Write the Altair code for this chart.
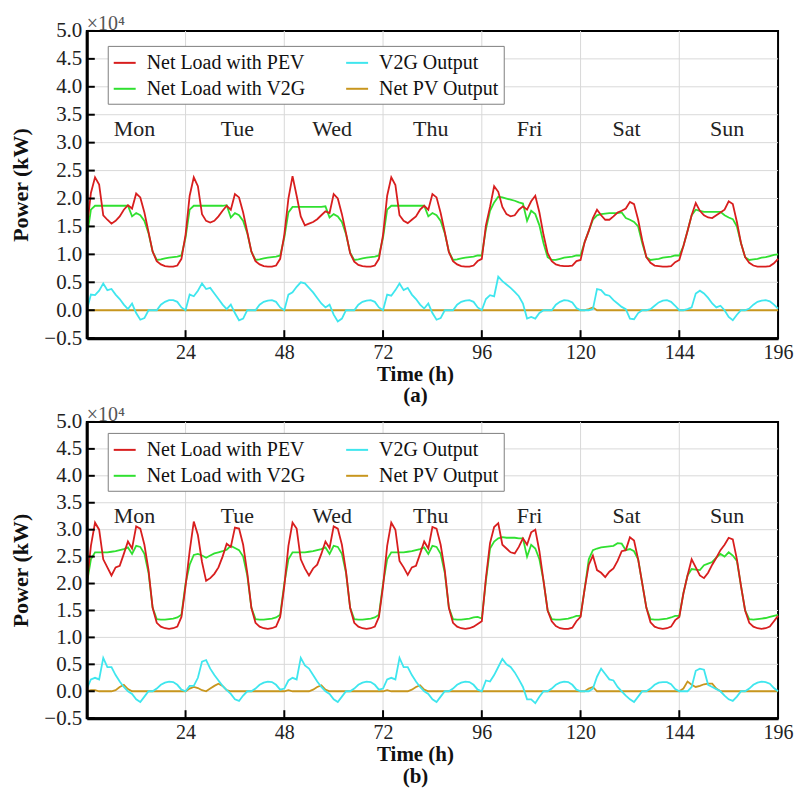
import altair as alt
import pandas as pd

# ---------------- data (values in units of 10^4 kW) ----------------
HOURS = list(range(169))
SERIES = ["Net Load with PEV", "Net Load with V2G", "V2G Output", "Net PV Output"]
COLORS = ["#d81e1e", "#30e030", "#3fe6ee", "#c8961e"]
DRAW_ORDER = ["Net PV Output", "V2G Output", "Net Load with V2G", "Net Load with PEV"]

DAY_NAMES = ["Mon", "Tue", "Wed", "Thu", "Fri", "Sat", "Sun"]
DAY_LABEL_HOURS = [11.6, 36.6, 59.6, 83.6, 107.6, 131.2, 155.6]
DAY_LABEL_LEVEL = [3.25, 3.25, 3.25, 3.25, 3.25, 3.25, 3.25]

X_TICKS = [24, 48, 72, 96, 120, 144, 168]
X_GRID = [24, 48, 72, 96, 120, 144]
Y_TICKS = [-0.5, 0.0, 0.5, 1.0, 1.5, 2.0, 2.5, 3.0, 3.5, 4.0, 4.5, 5.0]
Y_GRID = [0.0, 0.5, 1.0, 1.5, 2.0, 2.5, 3.0, 3.5, 4.0, 4.5]

# ---- panel (a) ----
A_PEV_MON = [1.45, 2.10, 2.38, 2.25, 1.70, 1.62, 1.55, 1.60, 1.68, 1.80, 1.88, 1.82, 2.09, 2.02, 1.75, 1.40, 1.05, 0.88, 0.82, 0.79, 0.78, 0.78, 0.80, 0.92]
A_PEV_TUE = [1.35, 2.05, 2.38, 2.22, 1.72, 1.60, 1.57, 1.60, 1.68, 1.78, 1.87, 1.80, 2.08, 2.02, 1.75, 1.40, 1.05, 0.88, 0.82, 0.79, 0.78, 0.78, 0.80, 0.92]
A_PEV_WED = [1.35, 2.00, 2.40, 2.05, 1.68, 1.52, 1.55, 1.58, 1.63, 1.70, 1.77, 1.74, 2.08, 2.00, 1.72, 1.38, 1.02, 0.87, 0.81, 0.79, 0.78, 0.78, 0.80, 0.92]
A_PEV_THU = [1.35, 2.05, 2.38, 2.24, 1.70, 1.60, 1.56, 1.62, 1.68, 1.80, 1.87, 1.80, 2.08, 2.02, 1.74, 1.40, 1.04, 0.88, 0.82, 0.79, 0.78, 0.78, 0.80, 0.88]
A_PEV_FRI = [0.92, 1.52, 1.85, 2.22, 2.12, 1.85, 1.72, 1.68, 1.70, 1.80, 1.86, 1.80, 1.95, 2.05, 1.75, 1.35, 1.02, 0.88, 0.82, 0.80, 0.79, 0.79, 0.80, 0.88]
A_PEV_SAT = [0.90, 1.22, 1.42, 1.65, 1.80, 1.70, 1.62, 1.62, 1.68, 1.75, 1.78, 1.82, 1.94, 1.90, 1.62, 1.25, 0.95, 0.85, 0.80, 0.79, 0.78, 0.78, 0.79, 0.86]
A_PEV_SUN = [0.90, 1.15, 1.42, 1.70, 1.92, 1.78, 1.70, 1.66, 1.65, 1.70, 1.75, 1.80, 1.95, 1.90, 1.58, 1.20, 0.95, 0.85, 0.80, 0.78, 0.78, 0.78, 0.79, 0.84]
A_PEV_END = 0.92

A_V2G_MON = [1.30, 1.80, 1.87, 1.87, 1.87, 1.87, 1.87, 1.87, 1.87, 1.87, 1.87, 1.68, 1.74, 1.70, 1.60, 1.38, 1.05, 0.90, 0.91, 0.93, 0.94, 0.95, 0.96, 0.98]
A_V2G_TUE = [1.30, 1.80, 1.87, 1.87, 1.87, 1.87, 1.87, 1.87, 1.87, 1.87, 1.88, 1.66, 1.74, 1.70, 1.60, 1.38, 1.05, 0.90, 0.91, 0.93, 0.94, 0.95, 0.96, 0.98]
A_V2G_WED = [1.30, 1.75, 1.85, 1.85, 1.85, 1.85, 1.85, 1.85, 1.85, 1.85, 1.86, 1.66, 1.72, 1.68, 1.58, 1.36, 1.03, 0.90, 0.91, 0.93, 0.94, 0.95, 0.96, 0.98]
A_V2G_THU = [1.30, 1.80, 1.87, 1.87, 1.87, 1.87, 1.87, 1.87, 1.87, 1.87, 1.87, 1.68, 1.74, 1.70, 1.60, 1.38, 1.05, 0.90, 0.91, 0.93, 0.94, 0.95, 0.96, 0.98]
A_V2G_FRI = [0.98, 1.45, 1.78, 1.93, 2.03, 2.02, 2.00, 1.98, 1.96, 1.93, 1.91, 1.60, 1.78, 1.72, 1.52, 1.20, 0.95, 0.90, 0.90, 0.92, 0.94, 0.95, 0.96, 0.98]
A_V2G_SAT = [0.98, 1.22, 1.42, 1.62, 1.70, 1.72, 1.73, 1.74, 1.74, 1.74, 1.75, 1.65, 1.62, 1.58, 1.50, 1.20, 0.95, 0.90, 0.91, 0.92, 0.94, 0.95, 0.96, 0.98]
A_V2G_SUN = [0.98, 1.15, 1.42, 1.70, 1.80, 1.78, 1.76, 1.76, 1.76, 1.76, 1.76, 1.70, 1.66, 1.63, 1.50, 1.20, 0.95, 0.90, 0.91, 0.92, 0.94, 0.95, 0.97, 0.99]
A_V2G_END = 1.00

A_OUT_MON = [0.00, 0.28, 0.27, 0.35, 0.48, 0.36, 0.38, 0.28, 0.20, 0.10, 0.02, 0.12, -0.05, -0.17, -0.14, 0.00, 0.00, 0.00, 0.10, 0.15, 0.18, 0.18, 0.15, 0.05]
A_OUT_TUE = [0.00, 0.28, 0.25, 0.35, 0.48, 0.38, 0.40, 0.30, 0.20, 0.10, 0.02, 0.10, -0.05, -0.18, -0.15, 0.00, 0.00, 0.00, 0.10, 0.15, 0.17, 0.18, 0.15, 0.05]
A_OUT_WED = [0.00, 0.28, 0.32, 0.42, 0.50, 0.48, 0.40, 0.32, 0.22, 0.12, 0.05, 0.10, -0.08, -0.20, -0.15, 0.00, 0.00, 0.00, 0.10, 0.15, 0.17, 0.18, 0.15, 0.05]
A_OUT_THU = [0.00, 0.28, 0.26, 0.36, 0.48, 0.36, 0.40, 0.28, 0.20, 0.10, 0.03, 0.12, -0.05, -0.17, -0.14, 0.00, 0.00, 0.00, 0.10, 0.15, 0.17, 0.18, 0.15, 0.05]
A_OUT_FRI = [0.00, 0.20, 0.27, 0.25, 0.60, 0.52, 0.46, 0.40, 0.33, 0.25, 0.12, -0.15, -0.12, -0.15, -0.05, 0.00, 0.00, 0.00, 0.10, 0.15, 0.18, 0.17, 0.14, 0.04]
A_OUT_SAT = [0.00, 0.00, 0.00, 0.02, 0.38, 0.36, 0.28, 0.26, 0.18, 0.12, 0.06, 0.02, -0.15, -0.16, -0.05, 0.00, 0.00, 0.02, 0.08, 0.14, 0.17, 0.18, 0.15, 0.08]
A_OUT_SUN = [0.00, 0.00, 0.02, 0.05, 0.30, 0.35, 0.30, 0.22, 0.12, 0.05, 0.08, 0.00, -0.12, -0.18, -0.08, 0.00, 0.00, 0.03, 0.10, 0.15, 0.17, 0.18, 0.16, 0.10]
A_OUT_END = 0.03

A_PV_MON = [0.0] * 24
A_PV_TUE = [0.0] * 24
A_PV_WED = [0.0] * 24
A_PV_THU = [0.0] * 24
A_PV_FRI = [0.0] * 24
A_PV_SAT = [0.0, 0.0, 0.02, 0.05, 0.0, 0.0, 0.0, 0.0, 0.0, 0.0, 0.0, 0.0, 0.0, 0.0, 0.0, 0.0, 0.0, 0.0, 0.0, 0.0, 0.0, 0.0, 0.0, 0.0]
A_PV_SUN = [0.0] * 24
A_PV_END = 0.0

# ---- panel (b) ----
B_PEV_MON = [2.00, 2.70, 3.13, 3.00, 2.45, 2.30, 2.15, 2.30, 2.33, 2.55, 2.78, 2.65, 3.06, 3.02, 2.72, 2.25, 1.55, 1.27, 1.20, 1.17, 1.16, 1.17, 1.20, 1.38]
B_PEV_TUE = [1.95, 2.60, 3.15, 2.90, 2.40, 2.05, 2.10, 2.18, 2.30, 2.50, 2.74, 2.68, 3.04, 3.02, 2.72, 2.20, 1.55, 1.27, 1.20, 1.17, 1.16, 1.17, 1.20, 1.38]
B_PEV_WED = [1.95, 2.70, 3.13, 3.02, 2.45, 2.28, 2.15, 2.28, 2.35, 2.55, 2.78, 2.66, 3.06, 3.02, 2.72, 2.22, 1.55, 1.27, 1.20, 1.17, 1.16, 1.17, 1.20, 1.38]
B_PEV_THU = [1.95, 2.70, 3.13, 3.00, 2.42, 2.30, 2.16, 2.30, 2.33, 2.55, 2.78, 2.65, 3.05, 3.02, 2.72, 2.25, 1.55, 1.27, 1.20, 1.17, 1.16, 1.17, 1.20, 1.25]
B_PEV_FRI = [1.30, 2.10, 2.75, 3.05, 3.12, 2.72, 2.65, 2.58, 2.56, 2.68, 2.84, 2.72, 2.95, 3.00, 2.60, 2.05, 1.50, 1.30, 1.21, 1.17, 1.16, 1.16, 1.18, 1.30]
B_PEV_SAT = [1.38, 1.90, 2.35, 2.52, 2.25, 2.20, 2.12, 2.22, 2.28, 2.42, 2.60, 2.62, 2.86, 2.80, 2.45, 2.00, 1.55, 1.28, 1.20, 1.17, 1.16, 1.17, 1.20, 1.32]
B_PEV_SUN = [1.38, 1.82, 2.15, 2.45, 2.30, 2.15, 2.10, 2.20, 2.35, 2.48, 2.62, 2.72, 2.85, 2.82, 2.45, 1.95, 1.50, 1.27, 1.20, 1.17, 1.16, 1.17, 1.20, 1.30]
B_PEV_END = 1.40

B_V2G_MON = [2.00, 2.45, 2.58, 2.58, 2.58, 2.58, 2.59, 2.60, 2.62, 2.64, 2.67, 2.55, 2.70, 2.68, 2.55, 2.20, 1.55, 1.34, 1.33, 1.33, 1.34, 1.35, 1.37, 1.42]
B_V2G_TUE = [2.00, 2.35, 2.53, 2.55, 2.52, 2.48, 2.52, 2.56, 2.58, 2.60, 2.63, 2.70, 2.66, 2.62, 2.50, 2.15, 1.55, 1.34, 1.33, 1.33, 1.34, 1.35, 1.37, 1.42]
B_V2G_WED = [2.00, 2.45, 2.58, 2.58, 2.58, 2.58, 2.59, 2.60, 2.62, 2.64, 2.67, 2.55, 2.70, 2.68, 2.55, 2.20, 1.55, 1.34, 1.33, 1.33, 1.34, 1.35, 1.37, 1.42]
B_V2G_THU = [2.00, 2.45, 2.58, 2.58, 2.58, 2.58, 2.59, 2.60, 2.62, 2.64, 2.67, 2.55, 2.70, 2.68, 2.55, 2.20, 1.55, 1.34, 1.33, 1.33, 1.34, 1.35, 1.37, 1.38]
B_V2G_FRI = [1.35, 2.05, 2.65, 2.78, 2.84, 2.86, 2.85, 2.85, 2.85, 2.84, 2.84, 2.50, 2.72, 2.65, 2.45, 2.05, 1.50, 1.34, 1.33, 1.33, 1.34, 1.35, 1.37, 1.40]
B_V2G_SAT = [1.40, 1.90, 2.45, 2.62, 2.65, 2.67, 2.68, 2.69, 2.70, 2.75, 2.74, 2.62, 2.64, 2.60, 2.45, 2.00, 1.55, 1.34, 1.33, 1.33, 1.34, 1.35, 1.37, 1.40]
B_V2G_SUN = [1.40, 1.82, 2.15, 2.27, 2.26, 2.25, 2.34, 2.37, 2.40, 2.48, 2.55, 2.50, 2.58, 2.52, 2.42, 1.95, 1.50, 1.34, 1.33, 1.34, 1.35, 1.36, 1.38, 1.40]
B_V2G_END = 1.42

B_OUT_MON = [0.05, 0.22, 0.25, 0.22, 0.62, 0.45, 0.45, 0.30, 0.18, 0.08, 0.00, -0.05, -0.15, -0.20, -0.10, 0.00, 0.00, 0.05, 0.12, 0.16, 0.18, 0.17, 0.12, 0.03]
B_OUT_TUE = [0.00, 0.10, 0.10, 0.25, 0.55, 0.58, 0.42, 0.30, 0.20, 0.10, 0.02, -0.05, -0.15, -0.18, -0.08, 0.00, 0.00, 0.05, 0.12, 0.16, 0.18, 0.17, 0.12, 0.03]
B_OUT_WED = [0.05, 0.20, 0.25, 0.22, 0.62, 0.48, 0.42, 0.30, 0.18, 0.08, 0.00, -0.05, -0.15, -0.20, -0.10, 0.00, 0.00, 0.05, 0.12, 0.16, 0.18, 0.17, 0.12, 0.03]
B_OUT_THU = [0.05, 0.22, 0.25, 0.22, 0.62, 0.45, 0.45, 0.30, 0.18, 0.08, 0.00, -0.05, -0.15, -0.20, -0.10, 0.00, 0.00, 0.05, 0.12, 0.16, 0.18, 0.17, 0.12, 0.03]
B_OUT_FRI = [0.00, 0.20, 0.18, 0.30, 0.45, 0.60, 0.50, 0.45, 0.35, 0.22, 0.08, -0.15, -0.15, -0.22, -0.10, 0.00, 0.00, 0.05, 0.12, 0.16, 0.18, 0.17, 0.12, 0.03]
B_OUT_SAT = [0.00, 0.00, 0.00, 0.05, 0.27, 0.42, 0.32, 0.22, 0.20, 0.08, 0.00, -0.08, -0.15, -0.20, -0.10, 0.00, 0.00, 0.05, 0.12, 0.16, 0.17, 0.17, 0.13, 0.04]
B_OUT_SUN = [0.00, 0.00, 0.00, 0.08, 0.38, 0.42, 0.40, 0.12, 0.08, 0.04, 0.00, -0.08, -0.15, -0.18, -0.10, 0.00, 0.00, 0.05, 0.12, 0.16, 0.18, 0.17, 0.14, 0.06]
B_OUT_END = 0.00

B_PV_MON = [0.0, 0.02, 0.02, 0.0, 0.0, 0.0, 0.0, 0.02, 0.08, 0.12, 0.04, 0.0, 0.0, 0.0, 0.0, 0.0, 0.0, 0.0, 0.0, 0.0, 0.0, 0.0, 0.0, 0.0]
B_PV_TUE = [0.0, 0.05, 0.08, 0.06, 0.02, 0.0, 0.05, 0.10, 0.14, 0.10, 0.02, 0.0, 0.0, 0.0, 0.0, 0.0, 0.0, 0.0, 0.0, 0.0, 0.0, 0.0, 0.0, 0.0]
B_PV_WED = [0.0, 0.02, 0.0, 0.0, 0.0, 0.0, 0.0, 0.03, 0.08, 0.11, 0.03, 0.0, 0.0, 0.0, 0.0, 0.0, 0.0, 0.0, 0.0, 0.0, 0.0, 0.0, 0.0, 0.0]
B_PV_THU = [0.0, 0.02, 0.0, 0.0, 0.0, 0.0, 0.0, 0.03, 0.08, 0.11, 0.03, 0.0, 0.0, 0.0, 0.0, 0.0, 0.0, 0.0, 0.0, 0.0, 0.0, 0.0, 0.0, 0.0]
B_PV_FRI = [0.0] * 24
B_PV_SAT = [0.0, 0.0, 0.05, 0.08, 0.0, 0.0, 0.0, 0.0, 0.0, 0.0, 0.0, 0.0, 0.0, 0.0, 0.0, 0.0, 0.0, 0.0, 0.0, 0.0, 0.0, 0.0, 0.0, 0.0]
B_PV_SUN = [0.0, 0.05, 0.18, 0.12, 0.08, 0.10, 0.13, 0.14, 0.14, 0.05, 0.0, 0.0, 0.0, 0.0, 0.0, 0.0, 0.0, 0.0, 0.0, 0.0, 0.0, 0.0, 0.0, 0.0]
B_PV_END = 0.0


def week(days, end):
    out = []
    for d in days:
        out.extend(d)
    out.append(end)
    return out


A = {
    "Net Load with PEV": week([A_PEV_MON, A_PEV_TUE, A_PEV_WED, A_PEV_THU, A_PEV_FRI, A_PEV_SAT, A_PEV_SUN], A_PEV_END),
    "Net Load with V2G": week([A_V2G_MON, A_V2G_TUE, A_V2G_WED, A_V2G_THU, A_V2G_FRI, A_V2G_SAT, A_V2G_SUN], A_V2G_END),
    "V2G Output": week([A_OUT_MON, A_OUT_TUE, A_OUT_WED, A_OUT_THU, A_OUT_FRI, A_OUT_SAT, A_OUT_SUN], A_OUT_END),
    "Net PV Output": week([A_PV_MON, A_PV_TUE, A_PV_WED, A_PV_THU, A_PV_FRI, A_PV_SAT, A_PV_SUN], A_PV_END),
}
B = {
    "Net Load with PEV": week([B_PEV_MON, B_PEV_TUE, B_PEV_WED, B_PEV_THU, B_PEV_FRI, B_PEV_SAT, B_PEV_SUN], B_PEV_END),
    "Net Load with V2G": week([B_V2G_MON, B_V2G_TUE, B_V2G_WED, B_V2G_THU, B_V2G_FRI, B_V2G_SAT, B_V2G_SUN], B_V2G_END),
    "V2G Output": week([B_OUT_MON, B_OUT_TUE, B_OUT_WED, B_OUT_THU, B_OUT_FRI, B_OUT_SAT, B_OUT_SUN], B_OUT_END),
    "Net PV Output": week([B_PV_MON, B_PV_TUE, B_PV_WED, B_PV_THU, B_PV_FRI, B_PV_SAT, B_PV_SUN], B_PV_END),
}

SERIF = "Liberation Serif"
W = 693


def to_long(d):
    df = pd.DataFrame({"hour": HOURS, **d})
    return df.melt(id_vars="hour", var_name="series", value_name="value")


def panel(d, tag, height, legend_y):
    xs = alt.Scale(domain=[0, 168], nice=False, zero=False)
    ys = alt.Scale(domain=[-0.5, 5.0], nice=False, zero=False)
    long = to_long(d)

    x_axis = alt.Axis(
        values=X_TICKS, labelExpr="datum.value == 168 ? '196' : datum.label",
        labelFont=SERIF, labelFontSize=20, labelColor="#222", labelPadding=4,
        labelFlush=False, ticks=False, tickSize=0, grid=False,
        domainColor="black", domainWidth=3,
        title=["Time (h)", tag], titleFont=SERIF, titleFontSize=21,
        titleFontWeight="bold", titleColor="#111", titleLineHeight=22,
        titleX=329, titleY=25, zindex=1)
    y_axis = alt.Axis(
        values=Y_TICKS, format=".1f", labelFont=SERIF, labelFontSize=21,
        labelColor="#222", labelPadding=5, ticks=False, tickSize=0, grid=False,
        domainColor="black", domainWidth=3,
        title="Power (kW)", titleFont=SERIF, titleFontSize=22,
        titleFontWeight="bold", titleColor="#111", titlePadding=11, zindex=1)

    X = lambda: alt.X("hour:Q", scale=xs, axis=x_axis)
    Y = lambda: alt.Y("value:Q", scale=ys, axis=y_axis)

    color = alt.Color(
        "series:N",
        scale=alt.Scale(domain=SERIES, range=COLORS),
        legend=alt.Legend(
            title=None, orient="none", legendX=21, legendY=legend_y, columns=2,
            symbolType="stroke", symbolSize=484, symbolStrokeWidth=2,
            labelFont=SERIF, labelFontSize=20, labelColor="#111", labelLimit=400,
            labelOffset=10, columnPadding=36, rowPadding=4, padding=5,
            strokeColor="#7f7f7f", fillColor="white",
        ),
    )

    hgrid = alt.Chart(pd.DataFrame({"value": Y_GRID})).mark_rule(color="#d9d9d9", strokeWidth=1).encode(
        y=Y(), x=alt.value(0), x2=alt.value(W))
    vgrid = alt.Chart(pd.DataFrame({"hour": X_GRID})).mark_rule(color="#d9d9d9", strokeWidth=1).encode(
        x=X(), y=alt.value(0), y2=alt.value(height))

    lines = []
    for s in DRAW_ORDER:
        lines.append(alt.Chart(long).transform_filter(alt.datum.series == s)
                     .mark_line(strokeWidth=1.8).encode(x=X(), y=Y(), color=color))

    yticks = alt.Chart(pd.DataFrame({"value": Y_TICKS})).mark_rule(color="black", strokeWidth=2).encode(
        y=Y(), x=alt.value(0), x2=alt.value(8))
    xticks = alt.Chart(pd.DataFrame({"hour": X_GRID})).mark_rule(color="black", strokeWidth=2).encode(
        x=X(), y=alt.value(height), y2=alt.value(height - 8))

    days = alt.Chart(pd.DataFrame({"hour": DAY_LABEL_HOURS, "value": DAY_LABEL_LEVEL, "day": DAY_NAMES})).mark_text(
        font=SERIF, fontSize=22, color="#222", align="center", baseline="middle").encode(
        x=X(), y=Y(), text="day:N")

    return alt.layer(hgrid, vgrid, *lines, yticks, xticks, days).properties(
        width=W, height=height,
        title=alt.TitleParams(text="×10⁴", anchor="start", frame="group", font=SERIF,
                              fontSize=20, fontWeight="normal", color="#555", offset=-14),
    )


top = panel(A, "(a)", 308, 15)
bottom = panel(B, "(b)", 297, 11)

chart = alt.vconcat(top, bottom, spacing=84, bounds="flush").resolve_scale(
    color="independent").resolve_legend(color="independent").properties(
    padding={"left": 0, "top": 4, "right": 5, "bottom": 5}, background="white"
).configure_view(stroke="black", strokeWidth=2)

chart.save("out.html", embed_options={"renderer": "svg", "actions": False})
